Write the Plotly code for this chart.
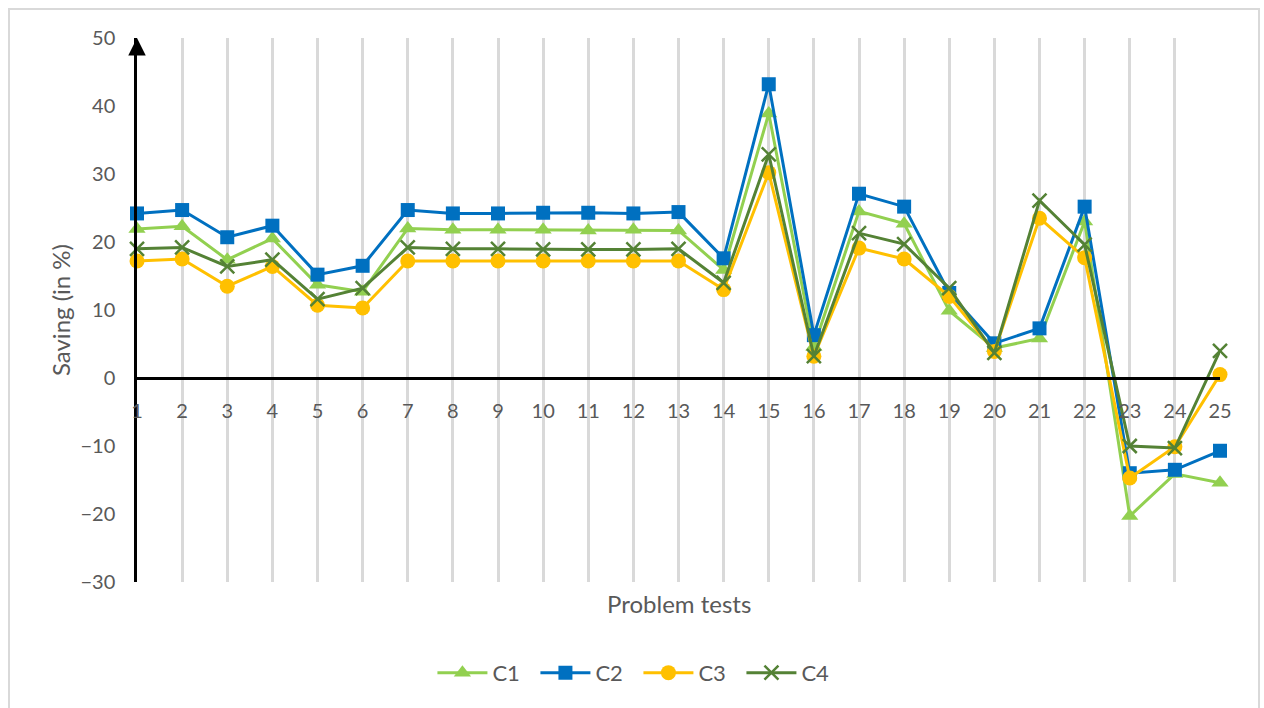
import plotly.graph_objects as go

# Problem test ids and savings (in %) for each configuration
tests = list(range(1, 26))
c1 = [21.9, 22.3, 17.4, 20.5, 13.7, 12.7, 22.0, 21.8, 21.8, 21.8, 21.7, 21.8, 21.7,
      15.9, 38.9, 4.6, 24.5, 22.7, 9.9, 4.4, 5.8, 23.0, -20.3, -14.1, -15.4]
c2 = [24.2, 24.7, 20.7, 22.4, 15.2, 16.5, 24.7, 24.2, 24.2, 24.3, 24.3, 24.2, 24.4,
      17.6, 43.2, 6.3, 27.1, 25.2, 12.5, 5.1, 7.3, 25.2, -14.0, -13.5, -10.7]
c3 = [17.2, 17.5, 13.5, 16.4, 10.7, 10.3, 17.2, 17.2, 17.2, 17.2, 17.2, 17.2, 17.2,
      13.0, 30.2, 3.2, 19.1, 17.5, 12.0, 3.9, 23.5, 17.7, -14.7, -10.1, 0.5]
c4 = [19.0, 19.2, 16.4, 17.4, 11.6, 13.2, 19.2, 19.0, 19.0, 18.9, 18.9, 18.9, 19.0,
      14.0, 32.9, 3.2, 21.3, 19.7, 13.2, 3.7, 26.1, 19.6, -10.0, -10.3, 4.0]
y_ticks = list(range(-30, 51, 10))

FONT = "Lato, 'Open Sans', sans-serif"
GREY = "#595959"

fig = go.Figure()
series = [
    ("C1", c1, "#92d050", dict(symbol="triangle-up", size=15)),
    ("C2", c2, "#0070c0", dict(symbol="square", size=14)),
    ("C3", c3, "#ffc000", dict(symbol="circle", size=15)),
    ("C4", c4, "#548235", dict(symbol="x-thin", size=14, line=dict(width=2.5, color="#548235"))),
]
for name, vals, color, marker in series:
    fig.add_trace(go.Scatter(
        x=tests, y=vals, name=name, mode="lines+markers",
        line=dict(color=color, width=3),
        marker=dict(color=color, **marker),
        cliponaxis=False,
    ))

y_min, y_max = -30, 50
zero_pos = (0 - y_min) / (y_max - y_min)

fig.update_layout(
    width=1264, height=708,
    margin=dict(l=137, r=44, t=38, b=126),
    paper_bgcolor="white", plot_bgcolor="white",
    font=dict(family=FONT, size=20, color=GREY),
    showlegend=True,
    legend=dict(orientation="h", x=0.463, xanchor="center", y=-0.167, yanchor="middle",
                font=dict(size=22, color=GREY), itemwidth=50,
                entrywidth=38, entrywidthmode="pixels", traceorder="normal"),
    xaxis=dict(
        range=[1, 25], tickmode="array", tickvals=tests, ticktext=[str(t) for t in tests],
        showgrid=True, gridcolor="#d9d9d9", gridwidth=2.5,
        showline=True, linecolor="black", linewidth=2.5,
        anchor="free", position=zero_pos,
        ticks="outside", ticklen=14, tickcolor="rgba(0,0,0,0)",
        zeroline=False, tickfont=dict(size=20, color=GREY),
    ),
    yaxis=dict(
        range=[y_min, y_max], tickmode="array", tickvals=y_ticks,
        showgrid=False, zeroline=False,
        showline=True, linecolor="black", linewidth=2.5,
        ticks="outside", ticklen=15, tickcolor="rgba(0,0,0,0)",
        tickfont=dict(size=20, color=GREY),
        title=dict(text="Saving (in %)", font=dict(size=24, color=GREY), standoff=4),
    ),
)

# x-axis title sits at the bottom of the plot area
fig.add_annotation(text="Problem tests", xref="paper", yref="paper", x=0.5, y=-0.04,
                   showarrow=False, yanchor="middle", font=dict(size=24, color=GREY))

# arrow head at the top of the y axis
fig.add_annotation(x=1, y=y_max, xref="x", yref="y", ax=0, ay=18, text="",
                   showarrow=True, arrowhead=2, arrowsize=1.4, arrowwidth=2.5,
                   arrowcolor="black", standoff=0)

# chart area border
fig.add_shape(type="rect", xref="paper", yref="paper",
              x0=(9 - 137) / 1083, x1=(1259 - 137) / 1083,
              y0=-0.3, y1=(582 - 9) / 544,
              line=dict(color="#d9d9d9", width=2), fillcolor="rgba(0,0,0,0)", layer="below")

fig.write_html("out.html")
